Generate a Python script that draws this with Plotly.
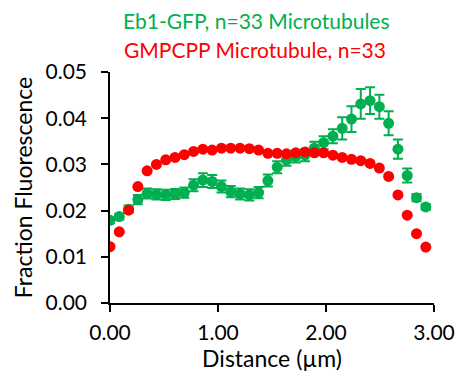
import plotly.graph_objects as go

step = 0.086
n_pts = 35
distance = [round(i * step, 4) for i in range(n_pts)]

eb1_gfp = [0.0179, 0.0187, 0.0203, 0.0224, 0.0237, 0.0235, 0.0234, 0.0236, 0.0239, 0.0255,
           0.0266, 0.0263, 0.0252, 0.0241, 0.0236, 0.0234, 0.0239, 0.0265, 0.0294, 0.0310,
           0.0317, 0.0320, 0.0335, 0.0347, 0.0361, 0.0378, 0.0398, 0.0431, 0.0438, 0.0425,
           0.0389, 0.0333, 0.0276, 0.0228, 0.0208]
eb1_err = [0.0006, 0.0006, 0.0008, 0.0010, 0.0011, 0.0011, 0.0011, 0.0011, 0.0011, 0.0013,
           0.0015, 0.0014, 0.0013, 0.0012, 0.0012, 0.0012, 0.0012, 0.0013, 0.0013, 0.0013,
           0.0013, 0.0013, 0.0014, 0.0014, 0.0015, 0.0024, 0.0028, 0.0032, 0.0029, 0.0026,
           0.0026, 0.0021, 0.0015, 0.0008, 0.0006]

gmpcpp = [0.0122, 0.0154, 0.0201, 0.0252, 0.0286, 0.0300, 0.0310, 0.0315, 0.0321, 0.0328,
          0.0333, 0.0331, 0.0335, 0.0335, 0.0335, 0.0334, 0.0331, 0.0324, 0.0324, 0.0323,
          0.0325, 0.0327, 0.0325, 0.0325, 0.0320, 0.0315, 0.0311, 0.0308, 0.0302, 0.0292,
          0.0274, 0.0234, 0.0190, 0.0150, 0.0121]

x_ticks = [0, 1, 2, 3]
x_ticklabels = ["0.00", "1.00", "2.00", "3.00"]
y_ticks = [0, 0.01, 0.02, 0.03, 0.04, 0.05]
y_ticklabels = ["0.00", "0.01", "0.02", "0.03", "0.04", "0.05"]

GREEN = "#00B050"
RED = "#FF0000"
FONT = "Lato"

fig = go.Figure()
fig.add_trace(go.Scatter(
    x=distance, y=eb1_gfp, mode="markers",
    marker=dict(color=GREEN, size=11),
    error_y=dict(type="data", array=eb1_err, color=GREEN, thickness=2, width=5),
    showlegend=False,
))
fig.add_trace(go.Scatter(
    x=distance, y=gmpcpp, mode="markers",
    marker=dict(color=RED, size=11),
    showlegend=False,
))

fig.update_layout(
    width=467, height=380,
    margin=dict(l=110, r=26, t=72, b=77),
    paper_bgcolor="white", plot_bgcolor="white",
    font=dict(family=FONT, size=21, color="#000000"),
    xaxis=dict(
        range=[0, 3], tickvals=x_ticks, ticktext=x_ticklabels,
        showgrid=False, zeroline=False, showline=True, linecolor="#000000", linewidth=1.5,
        ticks="outside", ticklen=7, tickwidth=1.5, tickcolor="#000000",
        tickfont=dict(size=21), ticklabelstandoff=3,
        title=dict(text="Distance (µm)", standoff=6, font=dict(size=23)),
    ),
    yaxis=dict(
        range=[0, 0.05], tickvals=y_ticks, ticktext=y_ticklabels,
        showgrid=False, zeroline=False, showline=True, linecolor="#000000", linewidth=1.5,
        ticks="outside", ticklen=7, tickwidth=1.5, tickcolor="#000000",
        tickfont=dict(size=21), ticklabelstandoff=10,
        title=dict(text="Fraction Fluorescence", standoff=6, font=dict(size=23)),
    ),
)
pw, ph = 467 - 110 - 26, 380 - 72 - 77
def px_to_paper(px, py):
    return (px - 110) / pw, (380 - 77 - py) / ph
x1, y1 = px_to_paper(260, 20)
x2, y2 = px_to_paper(258, 50)
fig.add_annotation(text="Eb1-GFP, n=33 Microtubules", x=x1, y=y1, xref="paper", yref="paper",
                   xanchor="center", yanchor="middle", showarrow=False,
                   font=dict(color=GREEN, size=21, family=FONT))
fig.add_annotation(text="GMPCPP Microtubule, n=33", x=x2, y=y2, xref="paper", yref="paper",
                   xanchor="center", yanchor="middle", showarrow=False,
                   font=dict(color=RED, size=21, family=FONT))

fig.write_html("out.html")
